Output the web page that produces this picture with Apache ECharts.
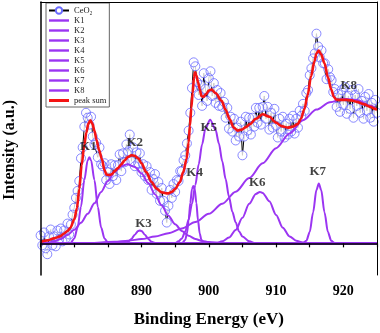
<!DOCTYPE html>
<html>
<head>
<meta charset="utf-8">
<script src="https://cdn.jsdelivr.net/npm/echarts@6/dist/echarts.min.js"></script>
<style>
  html, body { margin: 0; padding: 0; background: #fff; }
  #chart { width: 380px; height: 333px; }
</style>
</head>
<body>
<div id="chart"></div>
<script>
// binding energy grid of the measured points (eV)
var energyStart = 875;
var energyStep = 0.25;

// CeO2 measured intensity, one value per 0.25 eV from 875 to 925
var ceo2 = [
  8, -2, 11, -5, -11, 7, 14, -2, 7, -3, 13, 4, 15, 2, 13, 5, 20, 9, 19, 29,
  36, 46, 53, 63, 86, 97, 118, 132, 127, 120, 128, 108, 100, 102, 87, 97, 80, 78, 81, 64,
  72, 60, 80, 68, 79, 64, 79, 90, 73, 91, 82, 100, 93, 110, 83, 97, 78, 92, 81, 91,
  72, 80, 68, 78, 64, 72, 54, 65, 70, 50, 62, 43, 56, 43, 33, 21, 38, 54, 46, 60,
  52, 64, 63, 73, 73, 84, 89, 101, 114, 132, 157, 183, 179, 163, 150, 160, 139, 172, 156, 144,
  167, 174, 149, 162, 142, 155, 139, 152, 138, 143, 127, 137, 116, 128, 113, 126, 104, 117, 108, 123,
  89, 108, 128, 114, 127, 110, 127, 118, 137, 122, 137, 120, 138, 149, 126, 138, 115, 132, 117, 136,
  119, 107, 126, 113, 128, 107, 121, 110, 126, 113, 129, 111, 126, 117, 134, 129, 141, 134, 152, 155,
  170, 177, 187, 192, 212, 199, 188, 195, 182, 182, 166, 176, 168, 165, 153, 156, 138, 151, 133, 155,
  140, 158, 131, 149, 136, 155, 127, 150, 139, 156, 132, 144, 126, 148, 134, 151, 127, 142, 123, 145,
  132
];

// fitted components [eV, intensity]
var k1 = [[875,0],[879,0],[879.5,0.7],[880,5],[880.5,16],[881,37],[881.5,64],[882,84],[882.25,87],[882.5,84],[883,64],[883.5,37],[884,16],[884.5,5],[885,0.7],[885.5,0],[925,0]];
var k2 = [[875,0],[876,0.5],[877,2],[878,4.5],[879,8.5],[880,13.7],[881,20.8],[882,29.8],[883,40.5],[884,52],[885,63],[886,72.2],[887,78.2],[887.9,80],[889,77.3],[890,70.6],[891,61],[892,49.7],[893,38.3],[894,27.9],[895,19.2],[896,12.5],[897,7.6],[898,4.4],[899,2.4],[900,1.3],[902,0.3],[904,0],[925,0]];
var k3 = [[875,0],[887,0],[887.5,0.4],[888,1.6],[888.5,4.4],[889,8.8],[889.5,12.5],[889.75,13],[890,12.5],[890.5,8.8],[891,4.4],[891.5,1.6],[892,0.4],[892.5,0],[925,0]];
var k4 = [[875,0],[896,0],[896.5,3.5],[896.75,10],[897,23],[897.25,41],[897.5,55],[897.7,58],[897.9,55],[898.15,41],[898.4,23],[898.65,10],[898.9,3.5],[899.4,0],[925,0]];
var k5 = [[875,0],[895,0],[895.5,2],[896,5],[896.5,12],[897,24],[897.5,40],[898,59],[898.5,80],[899,100],[899.5,116],[900.2,125],[901,115],[901.5,101],[902,83],[902.5,65],[903,47],[903.5,32],[904,21],[904.5,12],[905,7],[906,2],[907,0],[925,0]];
var k6 = [[875,0],[901,0],[902,2],[903,5.8],[904,13.6],[905,25.9],[906,40],[907,50],[907.6,52],[908,51],[909,42.5],[910,28.7],[911,15.8],[912,7],[913,2.6],[914,0.8],[915,0],[925,0]];
var k7 = [[875,0],[913.5,0],[914,0.4],[914.5,2.6],[915,11.5],[915.5,31.3],[916,54.1],[916.35,60.5],[916.7,54.1],[917.2,31.3],[917.7,11.5],[918.2,2.6],[918.7,0.4],[919.2,0],[925,0]];
var k8 = [[875,0],[882,0],[884,0.9],[886,1.6],[888,2.7],[890,4.3],[892,6.8],[894,10.3],[896,15.1],[898,21.5],[900,29.8],[902,40],[904,52.2],[906,66],[908,80.9],[910,96.2],[912,111.1],[914,124.4],[916,135.2],[918,142.6],[920,145.9],[920.5,146],[922,144.8],[924,139.4],[925,135.2]];

// peak sum envelope
var peakSum = [[875,1.5],[876,3],[877,5],[877.9,7],[878.5,10],[879,12.5],[879.4,15.5],[880,24],[880.4,35.5],[880.75,55],[881.1,79],[881.5,100],[881.8,112],[882.1,121],[882.4,124.5],[882.7,121],[883,114],[883.3,105],[883.7,94],[884.1,85.5],[884.5,74],[884.8,69.5],[885.2,69],[885.6,70],[886,73],[886.5,76],[887,80],[887.5,84],[888,87.5],[888.5,89],[889,88.5],[889.5,86],[890,81],[890.7,72],[891.5,62],[892.2,55.5],[893,51.5],[893.95,50.5],[894.5,52],[895,55],[895.7,62],[896.2,72],[896.7,85.5],[897,102],[897.2,119],[897.4,137],[897.6,152],[897.8,168],[897.95,173],[898.15,170],[898.4,163],[898.65,156],[898.9,149],[899.2,148],[899.6,151],[900,154.5],[900.4,155.5],[901,152],[901.9,144],[902.5,135],[903.1,125.5],[903.7,117],[904.3,114],[904.9,115],[905.5,117.5],[906.1,120.5],[907,126],[908,130.5],[909,128],[910,122],[910.8,118.5],[911.75,117],[912.5,118],[913.2,120.5],[913.7,126],[914.2,135.5],[914.7,150],[915.2,169],[915.7,184],[916,192],[916.35,195],[916.7,191],[917.2,182],[917.7,168],[918.2,155.5],[918.6,148],[918.9,145.5],[919.5,145],[920.5,145],[921.2,144.5],[922,143],[923.1,140.5],[924,138],[924.7,136],[925,135]];

// component tags
var tagNames = ['K1', 'K2', 'K3', 'K4', 'K5', 'K6', 'K7', 'K8'];
var tagX = [882.1, 889.0, 890.3, 897.9, 900.0, 907.2, 916.2, 920.8];
var tagY = [98, 101.5, 19.5, 71.5, 117, 61.5, 73, 159.5];

var serif = '"Liberation Serif", "Times New Roman", serif';
var purple = '#9b35f2';
var sumRed = '#f41414';
var dotBlue = '#6b6bff';

var points = ceo2.map(function (v, i) { return [energyStart + i * energyStep, v]; });
var comps = [k1, k2, k3, k4, k5, k6, k7, k8];

var series = [
  {
    name: 'CeO₂', type: 'line', data: points, showSymbol: false,
    symbol: 'circle', symbolSize: 8, silent: true, z: 1,
    lineStyle: { color: '#000', width: 1 },
    itemStyle: { color: '#fff', borderColor: dotBlue, borderWidth: 1 }
  },
  {
    name: '_disc', type: 'scatter', data: points, symbolSize: 9, silent: true, z: 2,
    itemStyle: { color: '#fff' }
  },
  {
    name: '_ring', type: 'scatter', data: points, symbolSize: 9, silent: true, z: 3,
    itemStyle: { color: 'rgba(0,0,0,0)', borderColor: dotBlue, borderWidth: 1 }
  }
];
comps.forEach(function (c, i) {
  series.push({
    name: tagNames[i], type: 'line', data: c, showSymbol: false, symbol: 'none',
    smooth: 0.3, smoothMonotone: 'x', silent: true, z: 4,
    lineStyle: { color: purple, width: 2 }, itemStyle: { color: purple }
  });
});
series.push({
  name: 'peak sum', type: 'line', data: peakSum, showSymbol: false, symbol: 'none',
  smooth: 0.3, smoothMonotone: 'x', silent: true, z: 5,
  lineStyle: { color: sumRed, width: 2.6 }, itemStyle: { color: sumRed }
});
series.push({
  name: '_tags', type: 'scatter', symbolSize: 0, silent: true, z: 6,
  data: tagNames.map(function (n, i) { return { name: n, value: [tagX[i], tagY[i]] }; }),
  label: {
    show: true, position: 'inside', formatter: '{b}',
    fontFamily: serif, fontWeight: 'bold', fontSize: 13, color: '#111'
  }
});

// legend entries: plain bars for the fitted lines
var legendData = [{ name: 'CeO₂' }];
tagNames.forEach(function (n) {
  legendData.push({ name: n, icon: 'path://M0,0L20,0L20,2.4L0,2.4Z', itemStyle: { color: purple } });
});
legendData.push({ name: 'peak sum', icon: 'path://M0,0L20,0L20,3L0,3Z', itemStyle: { color: sumRed } });

var chart = echarts.init(document.getElementById('chart'), null, { renderer: 'canvas' });
chart.setOption({
  animation: false,
  backgroundColor: '#fff',
  grid: { left: 40.6, right: 2.4, top: 2, bottom: 55.5 },
  legend: {
    data: legendData,
    orient: 'vertical', left: 46, top: 3,
    itemWidth: 20, itemHeight: 8, itemGap: 1,
    padding: [3, 3, 2, 2],
    borderColor: '#666', borderWidth: 1, borderRadius: 0,
    backgroundColor: '#fff',
    selectedMode: false,
    textStyle: { fontFamily: serif, fontSize: 8.5, lineHeight: 8, color: '#222' }
  },
  xAxis: [
    {
      type: 'value', min: 875, max: 925, interval: 5, z: 10,
      name: 'Binding Energy (eV)', nameLocation: 'middle', nameGap: 36,
      nameTextStyle: { fontFamily: serif, fontWeight: 'bold', fontSize: 17, color: '#000' },
      axisLine: { lineStyle: { color: '#000', width: 1.5 } },
      axisTick: { inside: false, length: 4, lineStyle: { color: '#000', width: 1.2 } },
      axisLabel: {
        margin: 9, fontFamily: serif, fontWeight: 'bold', fontSize: 14, color: '#000',
        formatter: function (v) { return v % 10 === 0 ? String(v) : ''; }
      },
      splitLine: { show: false }
    },
    {
      type: 'value', position: 'top', min: 875, max: 925, z: 10,
      axisLine: { show: true, onZero: false, lineStyle: { color: '#000', width: 1 } },
      axisTick: { show: false }, axisLabel: { show: false }, splitLine: { show: false }
    }
  ],
  yAxis: [
    {
      type: 'value', min: -32, max: 244, z: 10,
      axisLine: { show: true, lineStyle: { color: '#000', width: 1.5 } },
      axisTick: { show: false }, axisLabel: { show: false }, splitLine: { show: false }
    },
    {
      type: 'value', position: 'right', min: -32, max: 244, z: 10,
      axisLine: { show: true, onZero: false, lineStyle: { color: '#000', width: 1 } },
      axisTick: { show: false }, axisLabel: { show: false }, splitLine: { show: false }
    }
  ],
  graphic: [
    {
      type: 'text', x: 10, y: 150, rotation: Math.PI / 2,
      style: {
        text: 'Intensity (a.u.)', fill: '#000',
        font: 'bold 16px ' + serif, textAlign: 'center', textVerticalAlign: 'middle'
      }
    }
  ],
  series: series
});
</script>
</body>
</html>
